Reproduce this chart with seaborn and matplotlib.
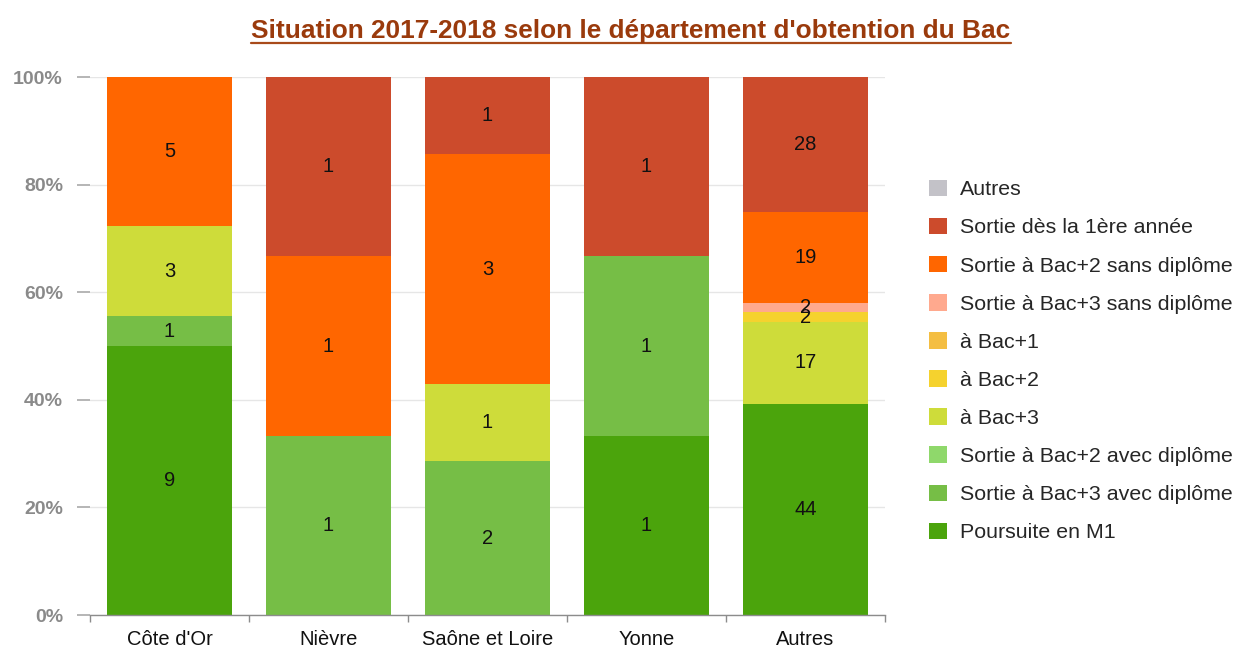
import matplotlib
matplotlib.use("Agg")
import matplotlib.pyplot as plt
from matplotlib import font_manager as fm
from matplotlib.patches import Patch
from matplotlib.lines import Line2D
import seaborn as sns
import pandas as pd
import numpy as np

# ---------------- data ----------------
categories = ["Côte d'Or", "Nièvre", "Saône et Loire", "Yonne", "Autres"]

# series listed bottom -> top of the stack
series_names = [
    "Poursuite en M1",
    "Sortie à Bac+3 avec diplôme",
    "Sortie à Bac+2 avec diplôme",
    "à Bac+3",
    "à Bac+2",
    "à Bac+1",
    "Sortie à Bac+3 sans diplôme",
    "Sortie à Bac+2 sans diplôme",
    "Sortie dès la 1ère année",
    "Autres",
]
poursuite_m1      = [9, 0, 0, 1, 44]
sortie_bac3_avec  = [1, 1, 2, 1, 0]
sortie_bac2_avec  = [0, 0, 0, 0, 0]
a_bac3            = [3, 0, 1, 0, 17]
a_bac2            = [0, 0, 0, 0, 2]
a_bac1            = [0, 0, 0, 0, 0]
sortie_bac3_sans  = [0, 0, 0, 0, 2]
sortie_bac2_sans  = [5, 1, 3, 0, 19]
sortie_1ere       = [0, 1, 1, 1, 28]
autres            = [0, 0, 0, 0, 0]

series_values = [poursuite_m1, sortie_bac3_avec, sortie_bac2_avec, a_bac3, a_bac2,
                 a_bac1, sortie_bac3_sans, sortie_bac2_sans, sortie_1ere, autres]

series_colors = ["#4BA40C", "#76BE46", "#8FD86B", "#CEDC3A", "#F5D22E",
                 "#F4BE42", "#FFA98E", "#FF6600", "#CC4B2C", "#C3C2C8"]

y_ticks = [0, 20, 40, 60, 80, 100]
y_tick_labels = ["0%", "20%", "40%", "60%", "80%", "100%"]
title = "Situation 2017-2018 selon le département d'obtention du Bac"

# ---------------- style ----------------
sns.set_theme(style="white")
avail = {f.name for f in fm.fontManager.ttflist}
base_font = "Liberation Sans" if "Liberation Sans" in avail else "DejaVu Sans"
narrow_font = "Liberation Sans Narrow" if "Liberation Sans Narrow" in avail else base_font
plt.rcParams["font.family"] = [base_font, "DejaVu Sans"]

df = pd.DataFrame({n: v for n, v in zip(series_names, series_values)}, index=categories)
pct = df.div(df.sum(axis=1), axis=0) * 100
cum = pct.cumsum(axis=1)

W, H = 1238, 649
fig = plt.figure(figsize=(W / 100, H / 100), dpi=100)
ax = fig.add_axes([90 / W, 1 - 615 / H, 795 / W, 538 / H])

# stacked bars: draw cumulative totals from the top layer downwards
for name, col in zip(reversed(series_names), reversed(series_colors)):
    d = pd.DataFrame({"cat": categories, "val": cum[name].values})
    sns.barplot(data=d, x="cat", y="val", order=categories, color=col,
                saturation=1, width=0.79, linewidth=0, errorbar=None,
                ax=ax, zorder=2)

# value labels
for name in series_names:
    for i, cat in enumerate(categories):
        v = df.loc[cat, name]
        if v > 0:
            yc = cum.loc[cat, name] - pct.loc[cat, name] / 2
            ax.text(i, yc, str(v), ha="center", va="center", fontsize=14.5,
                    color="#111111", zorder=5)

# axes styling
ax.set_xlim(-0.5, len(categories) - 0.5)
ax.set_ylim(0, 100)
ax.set_yticks(y_ticks)
ax.set_yticklabels(y_tick_labels, fontweight="bold", fontsize=14, color="#8a8a8a")
ax.set_xlabel("")
ax.set_ylabel("")
ax.set_xticks(range(len(categories)))
ax.set_xticklabels(categories, fontsize=14.5, color="#111111")
ax.set_xticks(np.arange(-0.5, len(categories), 1), minor=True)
ax.tick_params(axis="x", which="major", length=0, pad=10.5)
ax.tick_params(axis="x", which="minor", length=5, width=1, color="#8c8c8c", direction="out", bottom=True)
ax.tick_params(axis="y", which="major", left=True, length=9.5, width=1.3, color="#b0b0b0", pad=10)
ax.grid(axis="y", color="#e6e6e6", linewidth=1, zorder=0)
ax.grid(axis="x", visible=False)
ax.set_axisbelow(True)
for s in ["left", "top", "right"]:
    ax.spines[s].set_visible(False)
ax.spines["bottom"].set_color("#8c8c8c")
ax.spines["bottom"].set_linewidth(1)
ax.spines["bottom"].set_zorder(6)

# legend (top entry = top of stack)
handles = [Patch(facecolor=c, edgecolor="none") for c in reversed(series_colors)]
labels = list(reversed(series_names))
fig.legend(handles, labels, loc="center left", bbox_to_anchor=(929 / W, 1 - 361 / H),
           frameon=False, fontsize=15.4, handlelength=0.82, handleheight=0.82,
           handletextpad=0.62, labelspacing=0.86, borderpad=0, borderaxespad=0)

# title with underline
t = fig.text(631 / W, 1 - 38 / H, title, ha="center", va="baseline",
             fontsize=21 if narrow_font != base_font else 18.9, fontweight="bold",
             color="#9A3A0C", family=[narrow_font, "DejaVu Sans"])
fig.canvas.draw()
bb = t.get_window_extent()
yl = 1 - 43 / H
fig.add_artist(Line2D([bb.x0 / W, bb.x1 / W], [yl, yl], transform=fig.transFigure,
                      color="#A84A1A", linewidth=1.6))

fig.savefig("out.png", dpi=100)
